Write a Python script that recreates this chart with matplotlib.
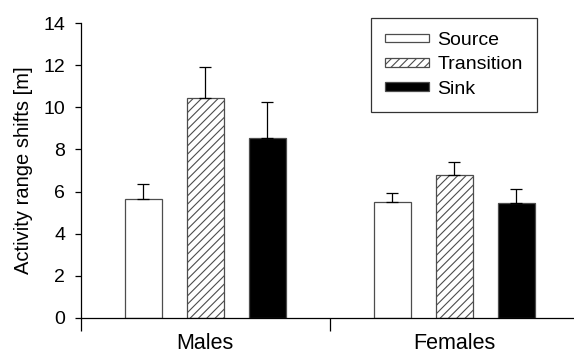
import matplotlib
matplotlib.use("Agg")
import matplotlib.pyplot as plt
import numpy as np

plt.rcParams['font.family'] = ['Liberation Sans', 'DejaVu Sans']
plt.rcParams['hatch.linewidth'] = 0.8

groups = ["Males", "Females"]
habitats = ["Source", "Transition", "Sink"]
means = {
    "Source": [5.65, 5.50],
    "Transition": [10.45, 6.77],
    "Sink": [8.53, 5.46],
}
errors = {
    "Source": [0.70, 0.42],
    "Transition": [1.45, 0.63],
    "Sink": [1.74, 0.68],
}
styles = {
    "Source": dict(facecolor="white", hatch=None),
    "Transition": dict(facecolor="white", hatch="////"),
    "Sink": dict(facecolor="black", hatch=None),
}

fig = plt.figure(figsize=(5.74, 3.54), dpi=100)
ax = fig.add_axes([81 / 574, 1 - 318 / 354, 1 - 81 / 574, (318 - 23) / 354])

x = np.arange(len(groups))
width = 0.149
offsets = [-0.249, 0.0, 0.249]

for h, off in zip(habitats, offsets):
    st = styles[h]
    ax.bar(x + off, means[h], width, facecolor=st["facecolor"],
           hatch=st["hatch"], edgecolor="0.3", linewidth=0.9, label=h,
           zorder=2)
    ax.errorbar(x + off, means[h], yerr=[np.zeros(len(groups)), errors[h]],
                fmt="none", ecolor="black", elinewidth=0.9, capsize=4.3,
                capthick=0.9, zorder=3)

ax.set_xlim(-0.498, 1.482)
ax.set_ylim(0, 14)
ax.set_yticks(np.arange(0, 15, 2))
ax.set_xticks([-0.5, 0.5])
ax.set_xticklabels([])
ax.set_xticks(x, minor=True)
ax.set_xticklabels(groups, minor=True)
ax.tick_params(axis="x", which="major", length=9, width=0.9, direction="out")
ax.tick_params(axis="x", which="minor", length=0, pad=11, labelsize=15.5)
ax.tick_params(axis="y", length=4, width=0.9, direction="out", labelsize=14,
               pad=7.5)

for side in ("top", "right"):
    ax.spines[side].set_visible(False)
for side in ("left", "bottom"):
    ax.spines[side].set_linewidth(0.9)

ax.set_ylabel("Activity range shifts [m]", fontsize=14.5, labelpad=7)

leg = ax.legend(loc="upper right",
                bbox_to_anchor=((537 - 81) / 493, (318 - 18) / 295),
                frameon=True, fancybox=False, edgecolor="black",
                fontsize=14, handlelength=2.25, handleheight=0.32,
                labelspacing=0.38, borderpad=0.72, handletextpad=0.46,
                borderaxespad=0)
leg.get_frame().set_linewidth(0.9)

fig.savefig("out.png", dpi=100)
